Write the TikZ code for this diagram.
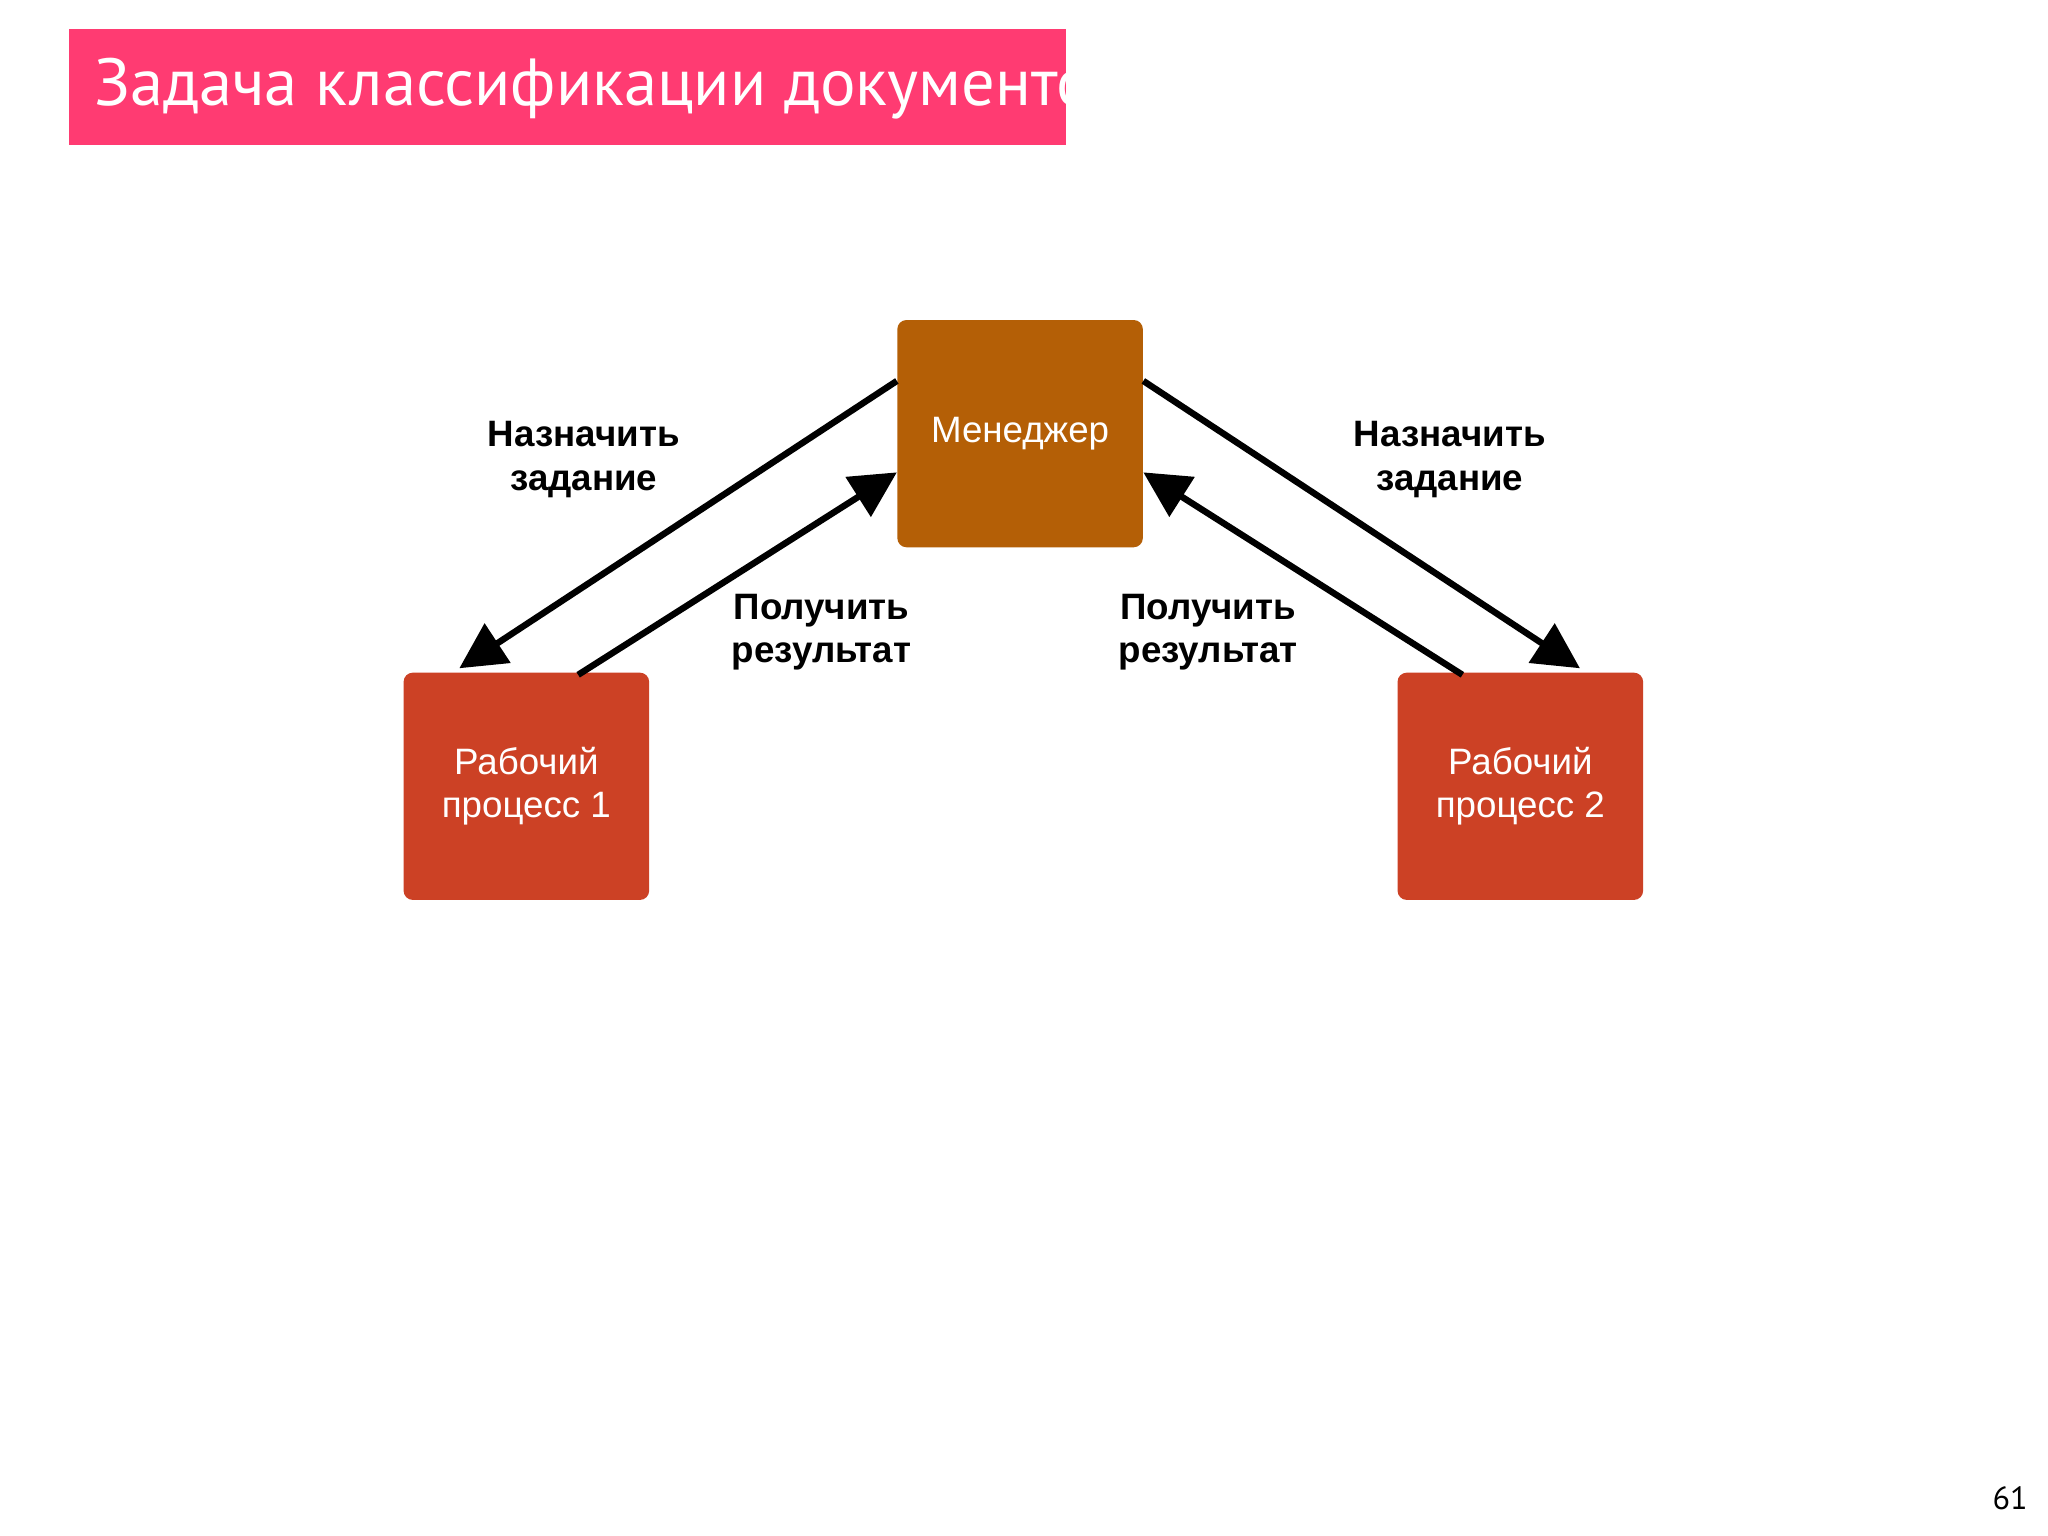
\documentclass[tikz,border=0pt]{standalone}
\usepackage{fontspec}
\setmainfont{Liberation Sans}
\newfontfamily\titlefont{PT Sans}
\usetikzlibrary{calc,arrows.meta}
\definecolor{mgrc}{HTML}{B45F06}
\definecolor{wkc}{HTML}{CC4125}
\definecolor{titc}{HTML}{FF3B72}
\begin{document}
\begin{tikzpicture}[x=0.02cm,y=-0.02cm,
  box/.style={rounded corners=4pt,text=white,font=\fontsize{16}{19}\selectfont,align=center,minimum width=188*0.02cm,minimum height=174*0.02cm,inner sep=0pt},
  lab/.style={font=\bfseries\fontsize{16}{19}\selectfont,align=center},
  arr/.style={line width=2.8pt,-{Triangle[length=20pt,width=20pt]}}]
\useasboundingbox (0,0) rectangle (1568,1176);
\fill[white] (0,0) rectangle (1568,1176);
\fill[titc] (53,22) rectangle (816,111);
\node[anchor=west,text=white,font=\titlefont\fontsize{29}{34}\selectfont] (title) at (66,68) {Задача классификации документов};
\node[box,fill=mgrc] (mgr) at (781,332) {Менеджер};
\node[box,fill=wkc] (w1) at (403,602) {Рабочий\\процесс 1};
\node[box,fill=wkc] (w2) at (1164,602) {Рабочий\\процесс 2};
\draw[arr] ($(mgr.north west)+(0,47)$) -- ($(w1.north west)+(43,-3)$);
\draw[arr] ($(w1.north west)+(134,2)$) -- ($(mgr.north west)+(0,117)$);
\draw[arr] ($(mgr.north east)+(0,47)$) -- ($(w2.north west)+(140,-3)$);
\draw[arr] ($(w2.north west)+(50,2)$) -- ($(mgr.north east)+(0,117)$);
\node[lab] (l1) at (447,352) {Назначить\\задание};
\node[lab] (l2) at (1110,352) {Назначить\\задание};
\node[lab] (l3) at (629,484) {Получить\\результат};
\node[lab] (l4) at (925,484) {Получить\\результат};
\node[font=\titlefont\fontsize{14}{16}\selectfont] (pg) at (1539,1147) {61};
\end{tikzpicture}
\end{document}
